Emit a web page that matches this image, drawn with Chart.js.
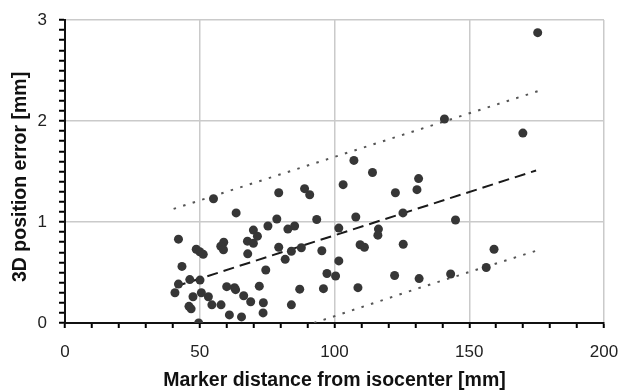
<!DOCTYPE html>
<html>
<head>
<meta charset="utf-8">
<script src="https://cdn.jsdelivr.net/npm/chart.js@4.4.1/dist/chart.umd.min.js"></script>
<style>
  html, body { margin: 0; padding: 0; background: #fff; }
  #wrap { width: 622px; height: 392px; }
</style>
</head>
<body>
<div id="wrap"><canvas id="chart_markerError"></canvas></div>
<script>
// marker distance from isocenter [mm] vs 3D position error [mm]
var distX = [175.4, 140.8, 169.9, 107.2, 114.1, 131.2, 130.6, 103.2, 88.9, 90.8,
             79.3, 122.6, 55.1, 63.5, 125.4, 107.9, 78.6, 93.4, 144.9, 75.3,
             85.2, 82.7, 69.9, 101.6, 116.3, 116.1, 71.4, 42.1, 67.7, 58.9,
             69.9, 109.5, 111.1, 125.5, 57.8, 58.8, 79.3, 87.7, 48.7, 50.0,
             51.3, 159.2, 84.0, 95.3, 67.8, 81.7, 101.6, 43.4, 156.3, 74.5,
             97.2, 143.1, 100.4, 122.3, 131.4, 46.3, 50.1, 42.1, 72.1, 60.0,
             62.9, 63.3, 95.9, 108.7, 87.1, 40.8, 50.6, 66.3, 47.5, 53.2,
             68.9, 73.6, 46.0, 46.8, 54.5, 57.9, 84.0, 73.5, 61.0, 65.5, 49.6];
var errY = [2.875, 2.02, 1.88, 1.61, 1.49, 1.43, 1.32, 1.37, 1.33, 1.27,
            1.29, 1.29, 1.23, 1.09, 1.09, 1.05, 1.03, 1.025, 1.02, 0.96,
            0.96, 0.93, 0.92, 0.94, 0.93, 0.87, 0.86, 0.83, 0.81, 0.80,
            0.79, 0.775, 0.75, 0.78, 0.76, 0.725, 0.75, 0.745, 0.73, 0.705,
            0.68, 0.73, 0.71, 0.715, 0.685, 0.63, 0.615, 0.56, 0.55, 0.525,
            0.49, 0.485, 0.465, 0.47, 0.44, 0.43, 0.425, 0.385, 0.365, 0.36,
            0.35, 0.33, 0.34, 0.35, 0.335, 0.30, 0.30, 0.27, 0.26, 0.26,
            0.21, 0.20, 0.165, 0.14, 0.18, 0.18, 0.18, 0.10, 0.08, 0.06, 0.0];

// regression line and prediction band
var fitX = [40.8, 174.8];
var fitY = [0.36, 1.51];
var upperX = [40.3, 176.0];
var upperY = [1.13, 2.30];
var lowerX = [92.4, 131.2, 176.0];
var lowerY = [0.0, 0.345, 0.725];

var xTickLabels = [0, 50, 100, 150, 200];
var yTickLabels = [0, 1, 2, 3];

function pairs(xs, ys) {
  return xs.map(function(x, i) { return {x: x, y: ys[i]}; });
}

function isMajorX(v) { return xTickLabels.indexOf(v) !== -1; }
function isMajorY(v) {
  return yTickLabels.some(function(t) { return Math.abs(t - v) < 1e-6; });
}

var fontFamily = '"Liberation Sans", Arial, sans-serif';

var chart_markerError = new Chart(document.getElementById('chart_markerError'), {
    type: 'scatter',
    data: {
        datasets: [
            {
                label: 'Markers',
                data: pairs(distX, errY),
                pointRadius: 4.5,
                pointHoverRadius: 4.5,
                pointBackgroundColor: '#363636',
                pointBorderColor: '#363636',
                pointBorderWidth: 0
            },
            {
                label: 'Fit',
                data: pairs(fitX, fitY),
                showLine: true,
                pointRadius: 0,
                borderColor: '#1a1a1a',
                borderWidth: 2,
                borderDash: [11, 6]
            },
            {
                label: 'Upper',
                data: pairs(upperX, upperY),
                showLine: true,
                pointRadius: 0,
                borderColor: '#555',
                borderWidth: 2,
                borderDash: [2.5, 7.5]
            },
            {
                label: 'Lower',
                data: pairs(lowerX, lowerY),
                showLine: true,
                pointRadius: 0,
                borderColor: '#555',
                borderWidth: 2,
                borderDash: [2.5, 7.5]
            }
        ]
    },
    options: {
        animation: false,
        responsive: true,
        maintainAspectRatio: false,
        layout: {
            padding: {left: 0, right: 18, top: 20, bottom: 0}
        },
        plugins: {
            legend: {display: false},
            tooltip: {enabled: false}
        },
        scales: {
            x: {
                type: 'linear',
                min: 0,
                max: 200,
                title: {
                    display: true,
                    text: 'Marker distance from isocenter [mm]',
                    color: '#111',
                    font: {family: fontFamily, size: 19.5, weight: 'bold'},
                    padding: {top: 0, bottom: 0}
                },
                ticks: {
                    stepSize: 10,
                    autoSkip: false,
                    maxRotation: 0,
                    padding: 14,
                    color: '#222',
                    font: {family: fontFamily, size: 17},
                    callback: function(value) {
                        return isMajorX(value) ? String(value) : '';
                    }
                },
                grid: {
                    color: function(ctx) {
                        return ctx.tick && isMajorX(ctx.tick.value) ? '#cacaca' : 'rgba(255,255,255,0)';
                    },
                    lineWidth: 1.5,
                    drawTicks: true,
                    tickColor: '#000',
                    tickLength: 5,
                    tickWidth: 2
                },
                border: {color: '#111', width: 2},
                afterFit: function(scale) {
                    scale.height = 69;
                    scale.paddingLeft = 0;
                    scale.paddingRight = 0;
                }
            },
            y: {
                type: 'linear',
                min: 0,
                max: 3,
                title: {
                    display: true,
                    text: '3D position error [mm]  ',
                    color: '#111',
                    font: {family: fontFamily, size: 19.5, weight: 'bold'},
                    padding: {top: 9, bottom: 0}
                },
                ticks: {
                    stepSize: 0.1,
                    autoSkip: false,
                    padding: 12,
                    color: '#222',
                    font: {family: fontFamily, size: 17},
                    callback: function(value) {
                        return isMajorY(value) ? String(Math.round(value)) : '';
                    }
                },
                grid: {
                    color: function(ctx) {
                        return ctx.tick && isMajorY(ctx.tick.value) ? '#cacaca' : 'rgba(255,255,255,0)';
                    },
                    lineWidth: 1.5,
                    drawTicks: true,
                    tickColor: '#000',
                    tickLength: 6,
                    tickWidth: 2
                },
                border: {color: '#111', width: 2},
                afterFit: function(scale) {
                    scale.width = 65;
                    scale.paddingTop = 0;
                    scale.paddingBottom = 0;
                }
            }
        }
    },
    plugins: [{
        id: 'whiteBackground',
        beforeDraw: function(chart) {
            var ctx = chart.canvas.getContext('2d');
            ctx.save();
            ctx.globalCompositeOperation = 'destination-over';
            ctx.fillStyle = 'white';
            ctx.fillRect(0, 0, chart.canvas.width, chart.canvas.height);
            ctx.restore();
        }
    }]
});
</script>
</body>
</html>
